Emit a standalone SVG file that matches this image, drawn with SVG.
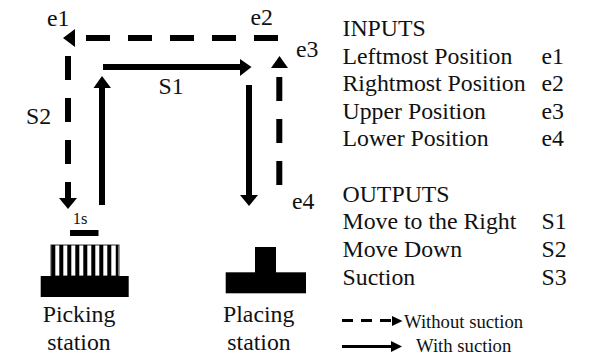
<svg xmlns="http://www.w3.org/2000/svg" width="599" height="353" viewBox="0 0 599 353">
<style>
text{font-family:"Liberation Serif","Times New Roman",serif;font-size:23.8px;fill:#111}
.s{stroke:#000;fill:none}
.b{stroke-width:6}
.d{stroke-width:6;stroke-dasharray:24 18}
.a{fill:#000}
.l{font-size:18.7px}
</style>
<rect width="599" height="353" fill="#fff"/>
<g id="connectors">
<path class="s d" d="M278 38H86"/>
<polygon class="a" points="63,38 75,29 75,47"/>
<path class="s d" d="M68 56V166"/>
<path class="s b" d="M68 182V199"/>
<polygon class="a" points="68,209 59,198 77,198"/>
<path class="s b" d="M102 205V87"/>
<polygon class="a" points="102,76 93.500,88 111,88"/>
<path class="s b" d="M103 67H241"/>
<polygon class="a" points="251.500,67 240,59 240,76"/>
<path class="s b" d="M249 85V196"/>
<polygon class="a" points="249,206 240,195 258,195"/>
<path class="s d" d="M279.300 186V77" stroke-dashoffset="-1"/>
<polygon class="a" points="279.500,56 271,68 288,68"/>
</g>
<g id="picking-station">
<rect x="70" y="230" width="28.500" height="6" class="a"/>
<rect x="51" y="245" width="68" height="31" fill="none" stroke="#333" stroke-width="1"/>
<path class="s" stroke-width="4" d="M53.300 245V276M61.300 245V276M69.300 245V276M77.300 245V276M85.300 245V276M93.300 245V276M101.300 245V276M109.300 245V276"/>
<path class="s" stroke-width="2.500" d="M117 245V276"/>
<rect x="40.700" y="276" width="88" height="21" class="a"/>
<text x="72.700" y="224" style="font-size:16.500px">1s</text>
<text x="42.700" y="322">Picking</text>
<text x="47.300" y="350">station</text>
</g>
<g id="placing-station">
<rect x="255" y="247" width="21" height="27" class="a"/>
<rect x="225.700" y="272.300" width="80.300" height="21" class="a"/>
<text x="223" y="322">Placing</text>
<text x="227.300" y="350">station</text>
</g>
<g id="labels">
<text x="47" y="26">e1</text>
<text x="250.500" y="25">e2</text>
<text x="296" y="57">e3</text>
<text x="292" y="209">e4</text>
<text x="158.500" y="94">S1</text>
<text x="26" y="124">S2</text>
</g>
<g id="inputs">
<text x="342.500" y="36">INPUTS</text>
<text x="342.500" y="64">Leftmost Position</text><text x="541.500" y="64">e1</text>
<text x="342.500" y="91">Rightmost Position</text><text x="541.500" y="91">e2</text>
<text x="342.500" y="118.500">Upper Position</text><text x="541.500" y="118.500">e3</text>
<text x="342.500" y="146">Lower Position</text><text x="541.500" y="146">e4</text>
</g>
<g id="outputs">
<text x="342.500" y="201.500">OUTPUTS</text>
<text x="342.500" y="229">Move to the Right</text><text x="541.500" y="229">S1</text>
<text x="342.500" y="257">Move Down</text><text x="541.500" y="257">S2</text>
<text x="342.500" y="285">Suction</text><text x="541.500" y="285">S3</text>
</g>
<g id="legend">
<path class="s" stroke-width="3" stroke-dasharray="11 8" d="M342 320.500H392"/>
<polygon class="a" points="402.500,321 392,316 392,326"/>
<text x="404" y="327.500" class="l">Without suction</text>
<path class="s" stroke-width="3" d="M342 346.500H392"/>
<polygon class="a" points="402,346.500 391,341 391,352"/>
<text x="416" y="351.500" class="l">With suction</text>
</g>
</svg>
